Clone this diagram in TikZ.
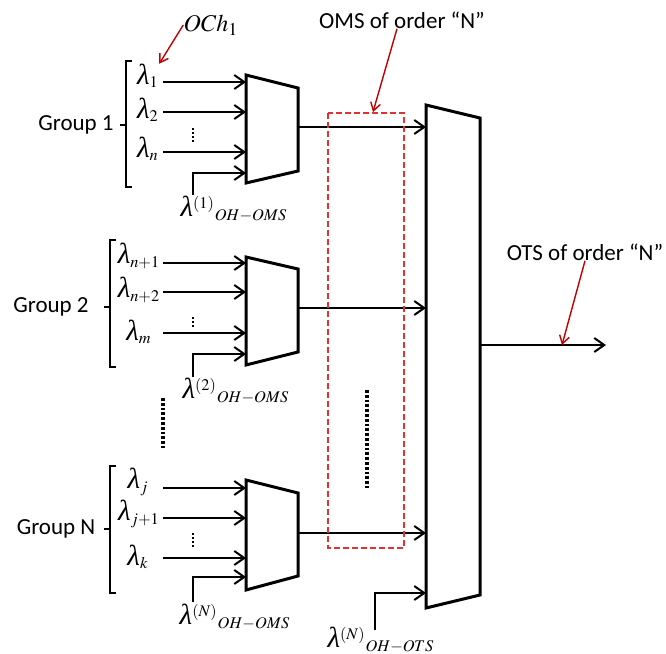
\documentclass[tikz,border=0pt]{standalone}
\usepackage{mathptmx}
\usepackage{fontspec}
\setmainfont{Carlito}
\newfontfamily\timesfam{Liberation Serif}
\usetikzlibrary{arrows.meta}

\definecolor{notered}{RGB}{192,0,0}
\definecolor{boxred}{RGB}{225,50,50}
\newcommand\grpfont{\fontsize{11.5}{14}\selectfont}
\newcommand\wavel{{\timesfam\itshape\fontsize{14.5}{16}\selectfont λ}}

\begin{document}
\begin{tikzpicture}[
    x=0.5pt,
    y=-0.5pt,
    mux/.style={line width=1.5pt, line join=miter},
    sig/.style={line width=1pt, -{Straight Barb[length=5pt,width=7pt]}},
    note/.style={draw=notered, line width=0.7pt, -{Straight Barb[length=4pt,width=5pt]}},
    brk/.style={line width=0.6pt},
    grp/.style={font=\grpfont, inner sep=0pt},
    wl/.style={font=\fontsize{11}{13}\selectfont, inner sep=0pt},
    fewdots/.style={line width=1pt, dash pattern=on 1pt off 1pt},
    moredots/.style={line width=1.6pt, dash pattern=on 1.4pt off 1pt}
  ]
    \useasboundingbox (0,0) rectangle (666,654);

    % --- Group 1 ---
    \node[grp] (g1) at (76,125) {Group 1};
    \draw[brk] (132,61) -- (126,61) -- (126,187) -- (132,187);
    \draw[brk] (126,125) -- (120,125);
    \node[wl] (l11) at (148,76) {\wavel$_1$};
    \node[wl] (l12) at (148,110) {\wavel$_2$};
    \node[wl] (l13) at (148,149) {\wavel$_n$};
    \draw[mux] (246,75) coordinate (m1) -- (298,88) -- (298,171) -- (246,183) -- cycle;
    \coordinate (m1o) at (298,127);
    \coordinate (i11) at (163,82);
    \coordinate (i12) at (163,112);
    \coordinate (i13) at (163,152);
    \foreach \c in {i11,i12,i13}
      \draw[sig] (\c) -- (m1 |- \c);
    \draw[fewdots] (193,128) -- (193,142);
    \coordinate (oh1) at (193,195);
    \coordinate (oh1b) at (193,173);
    \draw[sig] (oh1) -- (oh1b) -- (m1 |- oh1b);
    \node[wl] (ohl1) at (234,209) {\wavel$^{(1)}{}_{OH-OMS}$};

    % --- Group 2 ---
    \node[grp] (g2) at (51,307) {Group 2};
    \draw[brk] (116,240) -- (110,240) -- (110,367) -- (116,367);
    \draw[brk] (110,307) -- (104,307);
    \node[wl] (l21) at (139,256) {\wavel$_{n+1}$};
    \node[wl] (l22) at (139,290) {\wavel$_{n+2}$};
    \node[wl] (l23) at (139,332) {\wavel$_m$};
    \draw[mux] (246,257) coordinate (m2) -- (298,269) -- (298,352) -- (246,365) -- cycle;
    \coordinate (m2o) at (298,308);
    \coordinate (i21) at (163,263);
    \coordinate (i22) at (163,292);
    \coordinate (i23) at (163,333);
    \foreach \c in {i21,i22,i23}
      \draw[sig] (\c) -- (m2 |- \c);
    \draw[fewdots] (193,317) -- (193,328);
    \coordinate (oh2) at (193,377);
    \coordinate (oh2b) at (193,354);
    \draw[sig] (oh2) -- (oh2b) -- (m2 |- oh2b);
    \node[wl] (ohl2) at (236,391) {\wavel$^{(2)}{}_{OH-OMS}$};

    % los grupos de en medio
    \draw[moredots] (163,398) -- (163,448);

    % --- Group N ---
    \node[grp] (gN) at (56,529) {Group N};
    \draw[brk] (116,466) -- (110,466) -- (110,593) -- (116,593);
    \draw[brk] (110,529) -- (104,529);
    \node[wl] (lN1) at (138,482) {\wavel$_j$};
    \node[wl] (lN2) at (139,514) {\wavel$_{j+1}$};
    \node[wl] (lN3) at (138,557) {\wavel$_k$};
    \draw[mux] (246,480) coordinate (mN) -- (298,493) -- (298,576) -- (246,590) -- cycle;
    \coordinate (mNo) at (298,533);
    \coordinate (iN1) at (163,488);
    \coordinate (iN2) at (163,518);
    \coordinate (iN3) at (163,558);
    \foreach \c in {iN1,iN2,iN3}
      \draw[sig] (\c) -- (mN |- \c);
    \draw[fewdots] (193,533) -- (193,547);
    \coordinate (ohN) at (193,602);
    \coordinate (ohNb) at (193,577);
    \draw[sig] (ohN) -- (ohNb) -- (mN |- ohNb);
    \node[wl] (ohlN) at (235,617) {\wavel$^{(N)}{}_{OH-OMS}$};

    % --- OTS ---
    \draw[mux] (426,105) coordinate (big) -- (480,118) -- (480,595) -- (426,608) -- cycle;
    \foreach \c in {m1o,m2o,mNo}
      \draw[sig] (\c) -- (big |- \c);
    \draw[moredots] (367,390) -- (367,488);
    \coordinate (bigo) at (480,345);
    \coordinate (out) at (606,345);
    \draw[sig] (bigo) -- (out);
    \coordinate (ohT) at (375,630);
    \coordinate (ohTb) at (375,593);
    \draw[sig] (ohT) -- (ohTb) -- (big |- ohTb);
    \node[wl] (ohlT) at (381,640) {\wavel$^{(N)}{}_{OH-OTS}$};

    % Notas en rojo
    \draw[boxred, line width=0.7pt, dash pattern=on 3pt off 1.5pt]
      (328,113) rectangle (404,548);
    \node[wl, font=\large] (och) at (211,25) {$OCh_1$};
    \draw[note] (och.west) -- (l11.north east);
    \node[grp] (oms) at (402,20) {OMS of order ``N''};
    \coordinate (omsbox) at (373,112);
    \draw[note] (oms.south) ++(-5,0) -- (omsbox);
    \node[grp] (ots) at (585,252) {OTS of order ``N''};
    \coordinate (otsline) at (562,345);
    \draw[note] (ots.south) -- (otsline);
\end{tikzpicture}
\end{document}
